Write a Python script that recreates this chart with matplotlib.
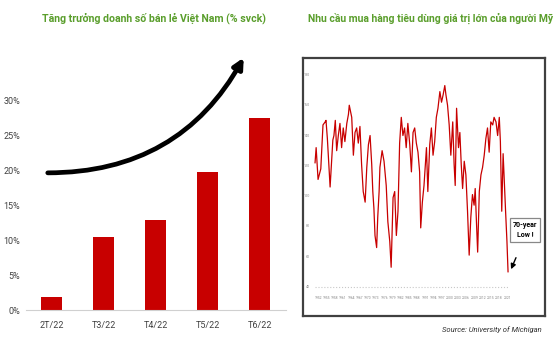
import matplotlib.pyplot as plt

plt.rcParams['font.family'] = ['Roboto', 'DejaVu Sans']

# Retail sales growth, Vietnam (% y/y)
months = ['2T/22', 'T3/22', 'T4/22', 'T5/22', 'T6/22']
growth = [1.8, 10.5, 12.8, 19.7, 27.5]
pct_ticks = [0, 5, 10, 15, 20, 25, 30]

# Michigan big-ticket buying conditions index
years = [1952.0, 1952.4, 1953.1, 1954.1, 1954.9, 1955.7, 1956.0, 1956.5, 1957.5, 1958.5,
         1958.9, 1959.4, 1959.9, 1960.5, 1961.1, 1961.7, 1962.3, 1962.9, 1963.6, 1964.2,
         1964.5, 1965.4, 1966.0, 1966.6, 1967.2, 1967.8, 1968.4, 1969.0, 1969.6, 1970.3,
         1970.9, 1971.5, 1972.1, 1972.7, 1973.1, 1973.5, 1973.9, 1974.5, 1974.9, 1975.4,
         1975.7, 1976.5, 1977.2, 1978.0, 1978.6, 1979.3, 1979.8, 1980.5, 1981.1, 1981.7,
         1982.3, 1982.9, 1983.5, 1984.1, 1984.7, 1985.3, 1985.9, 1986.6, 1987.2, 1987.8,
         1988.4, 1989.0, 1989.6, 1990.2, 1990.6, 1991.2, 1991.8, 1992.7, 1993.2, 1993.9,
         1994.5, 1995.1, 1995.7, 1996.3, 1996.9, 1997.6, 1998.2, 1998.8, 1999.4, 1999.8,
         2000.4, 2001.0, 2001.6, 2002.3, 2002.8, 2003.2, 2003.7, 2004.4, 2004.9, 2005.4,
         2005.9, 2006.5, 2007.1, 2007.7, 2008.3, 2008.9, 2009.5, 2010.1, 2010.5, 2011.0,
         2011.4, 2012.0, 2012.6, 2013.2, 2013.8, 2014.4, 2015.0, 2015.6, 2016.2, 2016.9,
         2017.4, 2018.1, 2018.7, 2019.3, 2019.7, 2020.2, 2020.7, 2021.2, 2021.6, 2022.1,
         2022.5]
index = [122, 132, 111, 118, 147, 149, 150, 138, 106, 137,
         140, 150, 130, 140, 148, 132, 145, 136, 148, 154,
         160, 152, 127, 142, 145, 135, 146, 121, 103, 96,
         119, 134, 140, 121, 103, 92, 74, 66, 86, 103,
         119, 130, 123, 107, 83, 70, 53, 99, 103, 74,
         90, 135, 152, 140, 145, 132, 148, 134, 116, 142,
         145, 135, 129, 116, 79, 96, 107, 132, 103, 134,
         145, 127, 136, 152, 158, 169, 162, 167, 173, 167,
         160, 147, 127, 149, 121, 107, 158, 132, 142, 121,
         105, 123, 114, 90, 61, 86, 101, 94, 105, 81,
         63, 103, 114, 119, 127, 138, 145, 129, 149, 147,
         152, 149, 140, 152, 136, 90, 128, 107, 90, 70,
         50]
inset_yticks = [40, 60, 80, 100, 120, 140, 160, 180]
inset_xticks = list(range(1952, 2022, 3))

green = '#5a9e2c'
red = '#c80000'

fig = plt.figure(figsize=(5.6, 3.4), dpi=100)

# ---- left: bar chart ----
ax = fig.add_axes([0.046, 0.088, 0.464, 0.762])
x = range(len(months))
ax.bar(x, growth, width=0.41, color=red, zorder=2)
ax.set_xlim(-0.5, 4.5)
ax.set_ylim(0, 37)
ax.set_yticks(pct_ticks)
ax.set_yticklabels([f'{t}%' for t in pct_ticks])
ax.set_xticks(list(x))
ax.set_xticklabels(months)
ax.tick_params(length=0, labelsize=6.5, labelcolor='#404040')
ax.tick_params(axis='y', pad=4)
ax.tick_params(axis='x', pad=8)
for s in ['top', 'right', 'left']:
    ax.spines[s].set_visible(False)
ax.spines['bottom'].set_color('#d0d0d0')
ax.annotate('', xy=(3.72, 36.4), xytext=(-0.13, 19.6),
            arrowprops=dict(arrowstyle='-|>,head_length=0.6,head_width=0.3',
                            connectionstyle='arc3,rad=0.3', lw=3.4, color='black'),
            annotation_clip=False)

fig.text(0.275, 0.945, 'Tăng trưởng doanh số bán lẻ Việt Nam (% svck)',
         ha='center', va='center', color=green, fontsize=7.6, fontweight='bold')

# ---- right: Michigan index inset ----
ax2 = fig.add_axes([303 / 560, 1 - 316 / 340, 242 / 560, 258 / 340])
ax2.plot(years, index, color=red, lw=0.9)
ax2.hlines(40, 1952, 2022.5, colors='#c8c8c8', linestyles=':', lw=0.8)
ax2.set_xlim(1947.6, 2036.0)
ax2.set_ylim(20.8, 191.2)
ax2.set_xticks([])
ax2.set_yticks([])
for s in ax2.spines.values():
    s.set_color('#404040')
    s.set_linewidth(1.6)
for t in inset_yticks:
    ax2.text(1950.0, t, str(t), ha='right', va='center', fontsize=2.6, color='#888888')
for t in inset_xticks:
    ax2.text(t + 1.2, 32.7, str(t), ha='center', va='center', fontsize=2.4, color='#888888')
ax2.text(2028.7, 77.6, '70-year\nLow !', ha='center', va='center', fontsize=5,
         fontweight='bold', color='black', linespacing=1.4,
         bbox=dict(boxstyle='square,pad=0.45', fc='white', ec='#888888', lw=0.9))
ax2.annotate('', xy=(2023.2, 50), xytext=(2025.8, 61),
             arrowprops=dict(arrowstyle='-|>,head_length=0.3,head_width=0.15',
                             lw=1.0, color='black'))

fig.text(308 / 560, 0.945, 'Nhu cầu mua hàng tiêu dùng giá trị lớn của người Mỹ',
         ha='left', va='center', color=green, fontsize=7.5, fontweight='bold')
fig.text(0.968, 0.03, 'Source: University of Michigan', ha='right', va='center',
         fontsize=5.5, style='italic', color='#303030')

fig.savefig('out.png', dpi=100)
